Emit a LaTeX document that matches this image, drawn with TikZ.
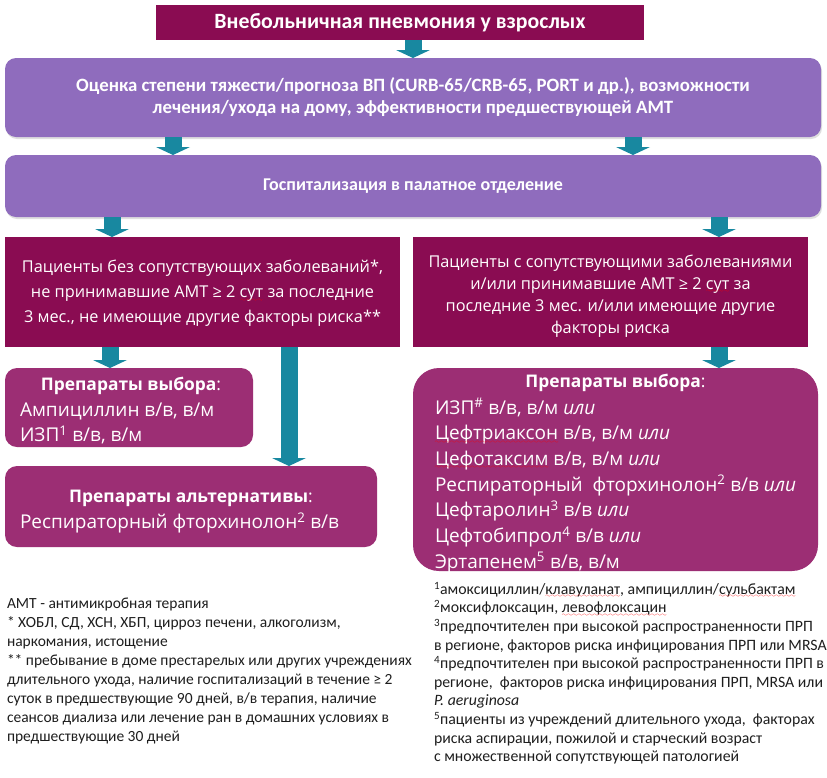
\documentclass[tikz,border=0pt]{standalone}
\usepackage{fontspec}
\setmainfont{Carlito}
\newfontfamily\osans{Open Sans}
\usetikzlibrary{arrows.meta,shadows}
\definecolor{darkmag}{RGB}{138,12,82}
\definecolor{lav}{RGB}{143,108,189}
\definecolor{medmag}{RGB}{156,46,116}
\definecolor{tealar}{RGB}{24,136,160}
\definecolor{foot}{RGB}{30,30,30}
\font\wavyfont=lasy6
\newsavebox\wavebox
\newcommand\redwave[1]{\sbox\wavebox{#1}\leavevmode\rlap{\usebox\wavebox}%
  \raisebox{-3.5pt}[0pt][0pt]{\textcolor{red}{\hbox to \wd\wavebox{\xleaders\hbox{\wavyfont\char58}\hfil}}}}
\begin{document}
\begin{tikzpicture}[x=1pt,y=-1pt,
  every node/.style={inner sep=0pt, outer sep=0pt},
  sqbox/.style={fill=darkmag, text=white},
  lavbox/.style={fill=lav, rounded corners=11pt, text=white,
    drop shadow={opacity=0.25, shadow xshift=1pt, shadow yshift=-2pt}},
  medbox/.style={fill=medmag, rounded corners=12pt},
  wtext/.style={text=white, align=left},
  boxfont/.style={font=\osans\fontsize{16.3}{25}\selectfont},
  medfont/.style={font=\osans\fontsize{19}{25.7}\selectfont},
  medtitle/.style={font=\osans\bfseries\fontsize{17.4}{22}\selectfont},
  barrow/.style={draw=tealar, line width=17pt,
    -{Triangle[width=34pt,length=8pt,line width=0pt]}},
  fnote/.style={text=foot, align=left, anchor=north west}
]
\useasboundingbox (0,0) rectangle (827,777);
\fill[white] (0,0) rectangle (827,777);

% column coordinates for arrows
\coordinate (c1) at (413,0);
\coordinate (c2) at (173,0);
\coordinate (c3) at (633,0);
\coordinate (c4) at (112,0);
\coordinate (c5) at (719,0);
\coordinate (c6) at (110,0);
\coordinate (c7) at (289,0);

\node[sqbox, minimum width=488pt, minimum height=35pt,
  font=\bfseries\fontsize{21.8}{24}\selectfont] (title) at (400,22.5)
  {Внебольничная пневмония у взрослых};

\node[lavbox, minimum width=816pt, minimum height=79pt, align=center,
  font=\bfseries\fontsize{18.8}{22}\selectfont] (assess) at (413,97.5)
  {Оценка степени тяжести/прогноза ВП (CURB-65/CRB-65, PORT и др.), возможности\\
   лечения/ухода на дому, эффективности предшествующей АМТ};

\node[lavbox, minimum width=816pt, minimum height=62pt,
  font=\bfseries\fontsize{18}{20}\selectfont] (hosp) at (413,186)
  {Госпитализация в палатное отделение};

\node[sqbox, minimum width=395pt, minimum height=110pt, align=center,
  boxfont] (noco) at (202.5,292)
  {\rule{0pt}{15pt}Пациенты без сопутствующих заболеваний*,\\
   не принимавшие АМТ ≥ 2 \redwave{сут} за последние\\
   3 мес., не имеющие другие факторы риска**};

\node[sqbox, minimum width=395pt, minimum height=110pt, align=center,
  font=\osans\fontsize{16.3}{22}\selectfont] (co) at (610.5,292)
  {\rule{0pt}{20pt}Пациенты с сопутствующими заболеваниями\\
   и/или принимавшие АМТ ≥ 2 \redwave{сут} за\\
   последние 3 мес. и/или имеющие другие\\
   факторы риска};

% left: drugs of choice
\node[medbox, minimum width=248pt, minimum height=79pt] (pl) at (129,407.5) {};
\node[wtext, medtitle] (pltitle) at (131,386) {Препараты выбора\textmd{:}};
\node[wtext, medfont, anchor=west] (pltext) at (20,423.5)
  {Ампициллин в/в, в/м\\ИЗП\textsuperscript{1} в/в, в/м};

% left: alternatives
\node[medbox, minimum width=372pt, minimum height=81pt] (alt) at (191,506.5) {};
\node[wtext, medtitle] (alttitle) at (191,498) {Препараты альтернативы\textmd{:}};
\node[wtext, medfont, anchor=west] (alttext) at (20,523)
  {Респираторный фторхинолон\textsuperscript{2} в/в};

% right: drugs of choice
\node[medbox, rounded corners=26pt, minimum width=405pt, minimum height=203pt] (pr) at (615.5,469.5) {};
\node[wtext, medtitle] (prtitle) at (615.5,383) {Препараты выбора\textmd{:}};
\node[wtext, medfont, anchor=west] (prtext) at (435,485.5)
  {ИЗП\textsuperscript{\#} в/в, в/м \textit{или}\\
   \redwave{Цефтриаксон} в/в, в/м \textit{или}\\
   \redwave{Цефотаксим} в/в, в/м \textit{или}\\
   Респираторный~ фторхинолон\textsuperscript{2} в/в \textit{или}\\
   Цефтаролин\textsuperscript{3} в/в \textit{или}\\
   Цефтобипрол\textsuperscript{4} в/в \textit{или}\\
   Эртапенем\textsuperscript{5} в/в, в/м};

% arrows
\draw[barrow] (title.south -| c1) -- (assess.north -| c1);
\draw[barrow] (assess.south -| c2) -- (hosp.north -| c2);
\draw[barrow] (assess.south -| c3) -- (hosp.north -| c3);
\draw[barrow] (hosp.south -| c4) -- (noco.north -| c4);
\draw[barrow] (hosp.south -| c5) -- (co.north -| c5);
\draw[barrow] (noco.south -| c6) -- (pl.north -| c6);
\draw[barrow] (noco.south -| c7) -- (alt.north -| c7);
\draw[barrow] (co.south -| c5) -- (pr.north -| c5);

% footnotes
\node[fnote, font=\fontsize{15.5}{19}\selectfont] (fnl) at (7,598)
  {АМТ - антимикробная терапия\\
   * ХОБЛ, СД, ХСН, ХБП, цирроз печени, алкоголизм,\\
   наркомания, истощение\\
   ** пребывание в доме престарелых или других учреждениях\\
   длительного ухода, наличие госпитализаций в течение ≥ 2\\
   суток в предшествующие 90 дней, в/в терапия, наличие\\
   сеансов диализа или лечение ран в домашних условиях в\\
   предшествующие 30 дней};

\node[fnote, font=\fontsize{15.8}{18.6}\selectfont] (fnr) at (434,582)
  {\textsuperscript{1}амоксициллин/\redwave{клавуланат}, ампициллин/\redwave{сульбактам}\\
   \textsuperscript{2}моксифлоксацин, \redwave{левофлоксацин}\\
   \textsuperscript{3}предпочтителен при высокой распространенности ПРП\\
   в регионе, факторов риска инфицирования ПРП или MRSA\\
   \textsuperscript{4}предпочтителен при высокой распространенности ПРП в\\
   регионе,~ факторов риска инфицирования ПРП, MRSA или\\
   \textit{P. aeruginosa}\\
   \textsuperscript{5}пациенты из учреждений длительного ухода,~ факторах\\
   риска аспирации, пожилой и старческий возраст\\
   с множественной сопутствующей патологией};
\end{tikzpicture}
\end{document}
